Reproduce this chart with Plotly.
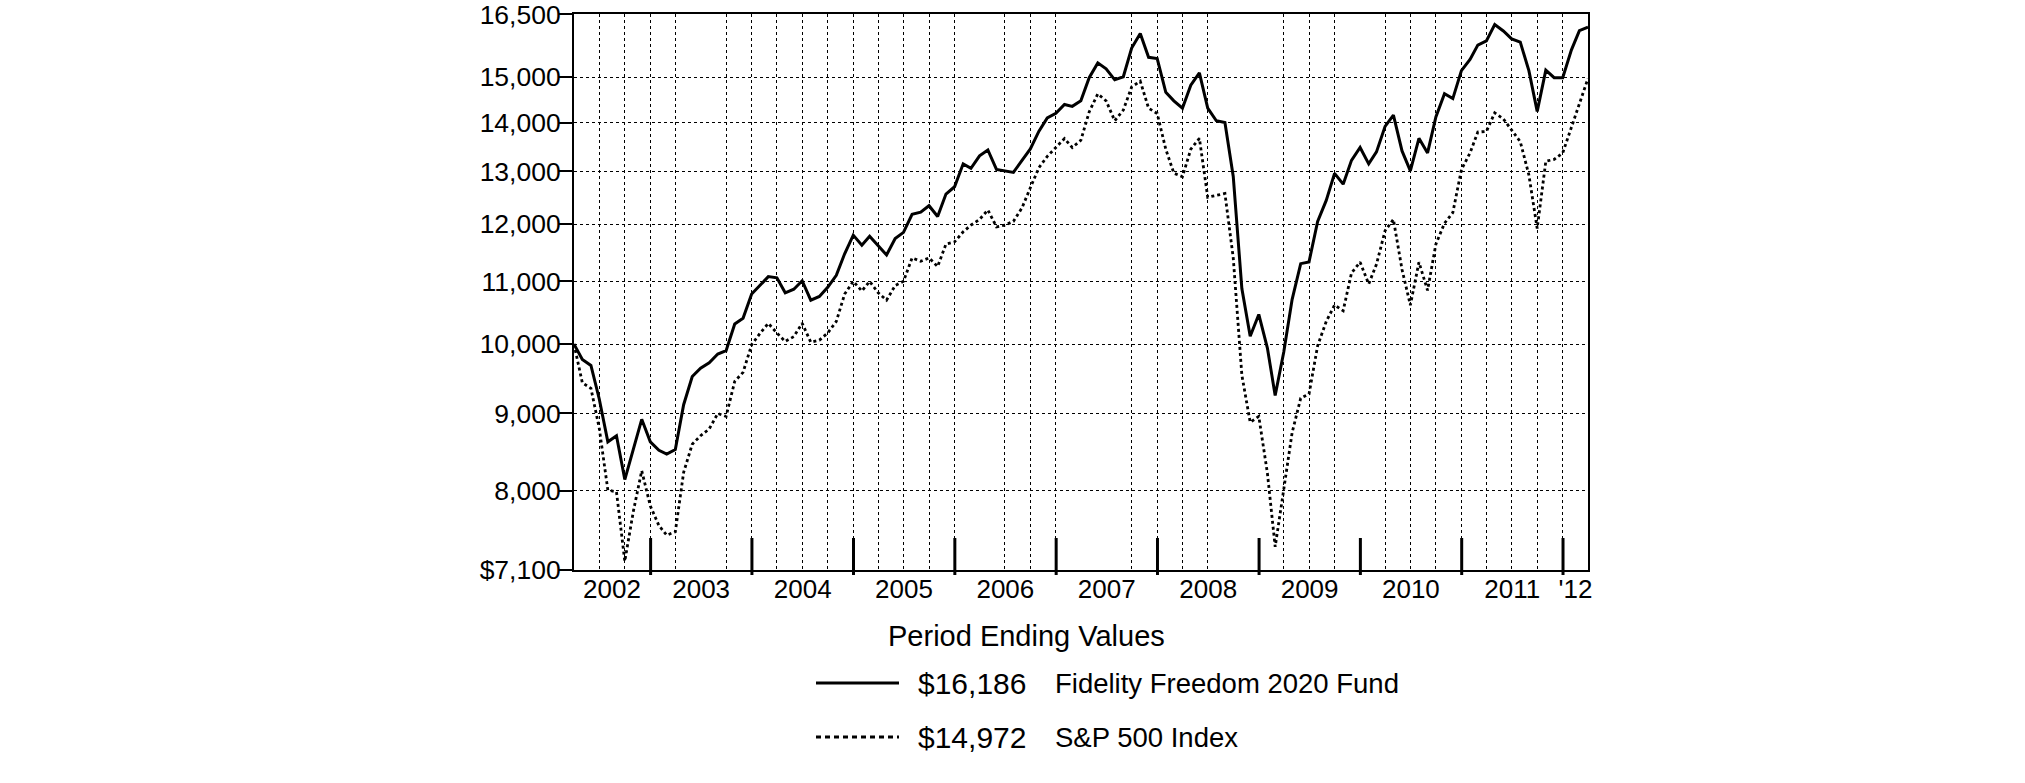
"""Growth of $10,000 chart: Fidelity Freedom 2020 Fund vs S&P 500 Index."""

import math

import pandas as pd
import plotly.graph_objects as go

# Month-end dates, March 2002 through March 2012
try:
    MONTHS = pd.date_range("2002-03-31", "2012-03-31", freq="ME")
except ValueError:
    MONTHS = pd.date_range("2002-03-31", "2012-03-31", freq="M")

FUND_NAME = "Fidelity Freedom 2020 Fund"
INDEX_NAME = "S&P 500 Index"

FUND_VALUES = [
    10000, 9770, 9680, 9200, 8620, 8700, 8140, 8530, 8920, 8620,
    8510, 8460, 8520, 9120, 9520, 9640, 9720, 9850, 9900, 10310,
    10400, 10790, 10930, 11080, 11060, 10810, 10870, 11010, 10690, 10750,
    10900, 11100, 11470, 11800, 11620, 11780, 11610, 11450, 11740, 11850,
    12180, 12220, 12340, 12140, 12560, 12700, 13150, 13060, 13310, 13430,
    13040, 13010, 12980, 13220, 13450, 13820, 14100, 14200, 14390, 14350,
    14470, 14990, 15330, 15190, 14940, 15010, 15680, 16030, 15460, 15430,
    14660, 14470, 14310, 14820, 15100, 14310, 14040, 14000, 12900, 10880,
    10120, 10460, 9940, 9250, 9880, 10700, 11300, 11330, 12050, 12440,
    12960, 12750, 13220, 13480, 13150, 13390, 13920, 14160, 13410, 13010,
    13670, 13370, 14120, 14630, 14520, 15150, 15410, 15750, 15850, 16250,
    16090, 15900, 15820, 15150, 14240, 15160, 14990, 14990, 15630, 16100,
    16186,
]

INDEX_VALUES = [
    10000, 9430, 9350, 8800, 8010, 7990, 7190, 7760, 8250, 7820,
    7590, 7480, 7520, 8230, 8590, 8700, 8790, 9000, 8960, 9450,
    9580, 9990, 10170, 10320, 10170, 10040, 10115, 10320, 10030, 10060,
    10170, 10350, 10790, 11000, 10840, 11000, 10810, 10690, 10930, 11000,
    11400, 11340, 11400, 11250, 11640, 11680, 11860, 11980, 12085, 12260,
    11950, 11980, 12050, 12300, 12680, 13075, 13300, 13480, 13665, 13480,
    13630, 14230, 14625, 14470, 14040, 14270, 14780, 14910, 14310, 14195,
    13445, 12965, 12895, 13445, 13670, 12500, 12540, 12570, 11400, 9540,
    8880, 8960, 8220, 7350, 8020, 8740, 9210, 9270, 9975, 10350,
    10610, 10520, 11140, 11325, 10955, 11290, 11880, 12085, 11200, 10610,
    11325, 10850, 11640, 12015, 12210, 13035, 13370, 13800, 13815, 14210,
    14080, 13850, 13600, 12930, 11920, 13200, 13240, 13370, 13890, 14430,
    14972,
]

Y_TICKS = [7100, 8000, 9000, 10000, 11000, 12000, 13000, 14000, 15000, 16500]
Y_TICK_TEXT = ["$7,100", "8,000", "9,000", "10,000", "11,000", "12,000",
               "13,000", "14,000", "15,000", "16,500"]

YEAR_LABELS = ["2002", "2003", "2004", "2005", "2006", "2007", "2008",
               "2009", "2010", "2011", "'12"]
YEAR_LABEL_DATES = ["2002-08-15", "2003-07-02", "2004-07-02", "2005-07-02",
                    "2006-07-02", "2007-07-02", "2008-07-02", "2009-07-02",
                    "2010-07-02", "2011-07-02", "2012-02-15"]
YEAR_STARTS = ["2003-01-01", "2004-01-01", "2005-01-01", "2006-01-01",
               "2007-01-01", "2008-01-01", "2009-01-01", "2010-01-01",
               "2011-01-01", "2012-01-01"]

# quarter-end gridlines that the original chart leaves out
SKIPPED_GRID = {15, 48, 60, 63, 78, 81, 93}
GRID_DATES = [MONTHS[i] for i in range(3, 120, 3) if i not in SKIPPED_GRID]

FONT = "Liberation Sans, Arial, sans-serif"

FIG_W, FIG_H = 2025, 783

# plot area in page pixels
PLOT_L, PLOT_R, PLOT_T, PLOT_B = 574, 1588, 14, 570


def paper_x(px):
    return (px - PLOT_L) / (PLOT_R - PLOT_L)


def paper_y(py):
    return (PLOT_B - py) / (PLOT_B - PLOT_T)


fig = go.Figure()

fig.add_trace(
    go.Scatter(
        x=MONTHS,
        y=FUND_VALUES,
        mode="lines",
        name=FUND_NAME,
        line=dict(color="black", width=3),
        showlegend=False,
    )
)
fig.add_trace(
    go.Scatter(
        x=MONTHS,
        y=INDEX_VALUES,
        mode="lines",
        name=INDEX_NAME,
        line=dict(color="black", width=2.8, dash="dot"),
        showlegend=False,
    )
)

# Year boundary ticks (thick, rising from the bottom axis)
for d in YEAR_STARTS:
    fig.add_shape(
        type="line",
        xref="x",
        yref="paper",
        x0=d,
        x1=d,
        y0=paper_y(575),
        y1=paper_y(538),
        line=dict(color="black", width=3),
    )

# Legend block
fig.add_annotation(
    x=paper_x(886), y=paper_y(636), xref="paper", yref="paper",
    text="Period Ending Values", showarrow=False,
    xanchor="left", yanchor="middle",
    font=dict(family=FONT, size=29, color="black"),
)

legend_rows = [
    (683, "solid", f"${FUND_VALUES[-1]:,}", FUND_NAME),
    (737, "5px,4px", f"${INDEX_VALUES[-1]:,}", INDEX_NAME),
]
for row_y, dash, amount, label in legend_rows:
    fig.add_shape(
        type="line", xref="paper", yref="paper",
        x0=paper_x(816), x1=paper_x(899),
        y0=paper_y(row_y), y1=paper_y(row_y),
        line=dict(color="black", width=2.8, dash=dash),
    )
    fig.add_annotation(
        x=paper_x(916), y=paper_y(row_y), xref="paper", yref="paper",
        text=amount, showarrow=False, xanchor="left", yanchor="middle",
        font=dict(family=FONT, size=30, color="black"),
    )
    fig.add_annotation(
        x=paper_x(1053), y=paper_y(row_y), xref="paper", yref="paper",
        text=label, showarrow=False, xanchor="left", yanchor="middle",
        font=dict(family=FONT, size=27.5, color="black"),
    )

fig.update_layout(
    width=FIG_W,
    height=FIG_H,
    autosize=False,
    margin=dict(l=PLOT_L, r=FIG_W - PLOT_R, t=PLOT_T, b=FIG_H - PLOT_B, pad=0),
    plot_bgcolor="white",
    paper_bgcolor="white",
    font=dict(family=FONT, color="black"),
    showlegend=False,
    xaxis=dict(
        range=[MONTHS[0], MONTHS[-1]],
        automargin=False,
        tickmode="array",
        tickvals=YEAR_LABEL_DATES,
        ticktext=YEAR_LABELS,
        ticks="",
        ticklabelstandoff=-5,
        showgrid=False,
        tickfont=dict(family=FONT, size=26, color="black"),
        showline=True,
        linecolor="black",
        linewidth=2,
        mirror=True,
        zeroline=False,
        minor=dict(
            tickmode="array",
            tickvals=GRID_DATES,
            ticks="",
            showgrid=True,
            gridcolor="black",
            gridwidth=1,
            griddash="dot",
        ),
    ),
    yaxis=dict(
        type="log",
        range=[math.log10(7100) - 0.0003, math.log10(16500) + 0.0003],
        automargin=False,
        tickmode="array",
        tickvals=Y_TICKS,
        ticktext=Y_TICK_TEXT,
        ticks="outside",
        ticklen=13,
        tickwidth=2,
        tickcolor="black",
        ticklabelstandoff=-7,
        ticklabeloverflow="allow",
        tickfont=dict(family=FONT, size=26.5, color="black"),
        showgrid=True,
        gridcolor="black",
        gridwidth=1,
        griddash="dot",
        showline=True,
        linecolor="black",
        linewidth=2,
        mirror=True,
        zeroline=False,
    ),
)

# drop the default page margin so the figure fills the window exactly
fig.write_html(
    "out.html",
    config={"displayModeBar": False},
    post_script="document.body.style.margin = '0'; document.body.style.overflow = 'hidden';",
)
